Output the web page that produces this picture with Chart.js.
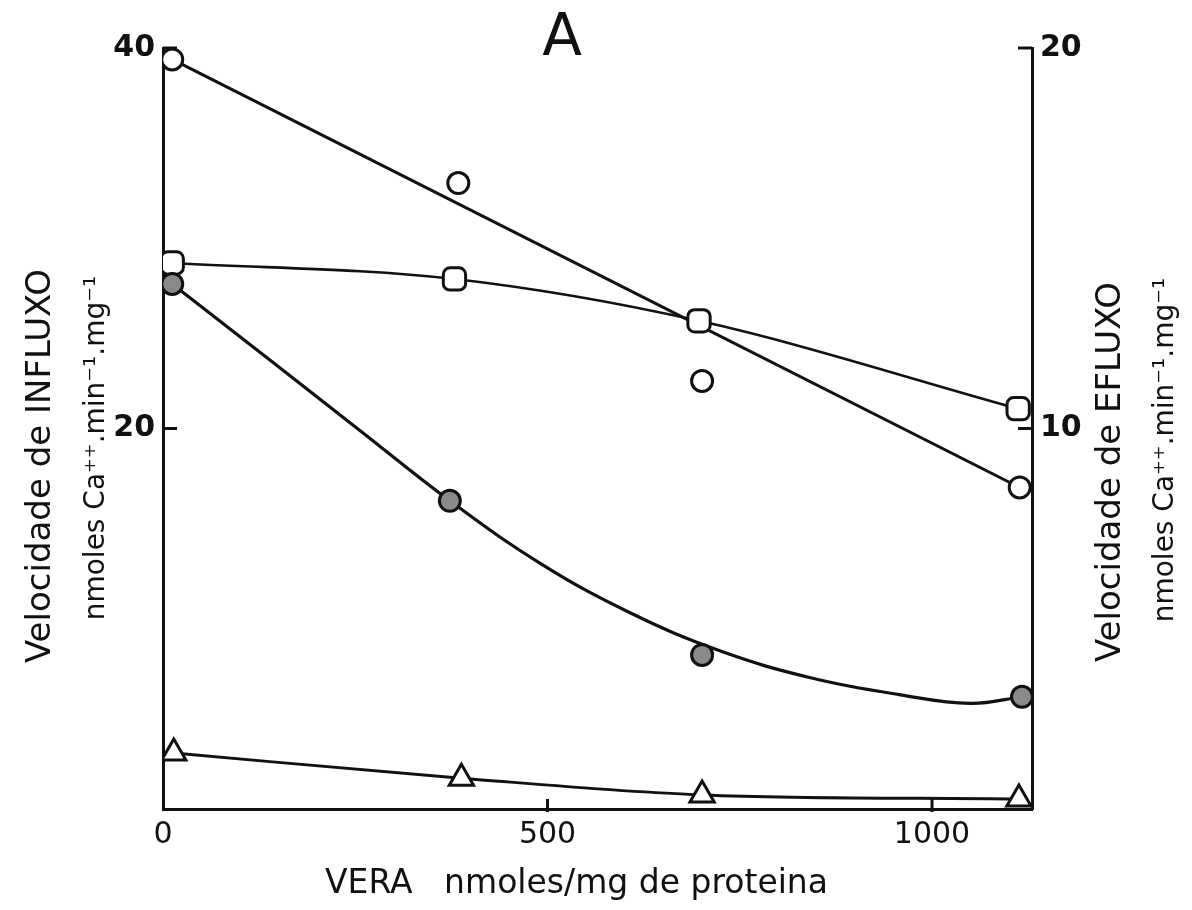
<!DOCTYPE html>
<html>
<head>
<meta charset="utf-8">
<script src="https://cdn.jsdelivr.net/npm/chart.js@4.4.1/dist/chart.umd.min.js"></script>
<style>
  html, body { margin: 0; padding: 0; background: #fff; }
  canvas { display: block; }
</style>
</head>
<body>
<canvas id="chart" width="1192" height="910"></canvas>
<script>
// values (x: VERA nmoles/mg proteina)
const openX = [12, 384, 701, 1114];
const openY = [39.4, 32.9, 22.5, 16.9];          // influx, left axis
const fitX = [12, 1114];
const fitY = [39.4, 16.9];

const filledX = [12, 373, 701, 1117];
const filledY = [27.6, 16.2, 8.1, 5.9];          // influx, left axis
const filledCurveX = [12, 139, 256, 373, 491, 608, 725, 842, 959, 1050, 1117];
const filledCurveY = [27.6, 23.6, 19.9, 16.2, 12.9, 10.3, 8.3, 6.9, 6.0, 5.55, 5.9];

const squareX = [12, 379, 697, 1112];
const squareY = [14.35, 13.93, 12.83, 10.52];    // efflux, right axis

const triangleX = [14, 388, 701, 1113];
const triangleY = [1.47, 0.81, 0.37, 0.26];      // efflux, right axis

const xTicks = [0, 500, 1000];
const leftTicks = [20, 40];
const rightTicks = [10, 20];

const ink = '#111';
const font = 'DejaVu Sans';

const pts = (xs, ys) => xs.map((x, i) => ({ x: x, y: ys[i] }));
const fixTicks = list => s => { s.ticks = list.map(v => ({ value: v })); };

const curve = (data, axis, width, mode) => ({
  data: data,
  yAxisID: axis,
  showLine: true,
  borderColor: ink,
  borderWidth: width,
  pointRadius: 0,
  cubicInterpolationMode: mode || 'default',
  tension: mode ? 0 : 0.4,
  order: 2
});

const markers = (data, axis, style, radius, fill) => ({
  data: data,
  yAxisID: axis,
  showLine: false,
  pointStyle: style,
  pointRadius: radius,
  pointBackgroundColor: fill,
  pointBorderColor: ink,
  pointBorderWidth: 3,
  order: 1
});

// inward tick marks, the "A" and the two-line side titles
const decorations = {
  id: 'decorations',
  afterDraw(chart) {
    const { ctx, chartArea, scales } = chart;
    ctx.save();
    ctx.strokeStyle = ink;
    ctx.lineWidth = 3;
    ctx.beginPath();
    leftTicks.forEach(v => {
      const y = scales.y.getPixelForValue(v);
      ctx.moveTo(chartArea.left, y);
      ctx.lineTo(chartArea.left + 14, y);
    });
    rightTicks.forEach(v => {
      const y = scales.y1.getPixelForValue(v);
      ctx.moveTo(chartArea.right, y);
      ctx.lineTo(chartArea.right - 14, y);
    });
    xTicks.slice(1).forEach(v => {
      const x = scales.x.getPixelForValue(v);
      ctx.moveTo(x, chartArea.bottom + 3);
      ctx.lineTo(x, chartArea.bottom - 10);
    });
    ctx.stroke();

    ctx.fillStyle = ink;
    ctx.textAlign = 'center';
    ctx.textBaseline = 'middle';
    ctx.font = '58px ' + font;
    ctx.fillText('A', 562, 40);

    const side = (text, x, y, size) => {
      ctx.save();
      ctx.translate(x, y);
      ctx.rotate(-Math.PI / 2);
      ctx.font = size + 'px ' + font;
      ctx.fillText(text, 0, 0);
      ctx.restore();
    };
    side('Velocidade de INFLUXO', chartArea.left - 122, 466, 34);
    side('nmoles Ca\u207A\u207A.min\u207B\u00B9.mg\u207B\u00B9', chartArea.left - 66, 448, 28);
    side('Velocidade de EFLUXO', chartArea.right + 79, 472, 34);
    side('nmoles Ca\u207A\u207A.min\u207B\u00B9.mg\u207B\u00B9', chartArea.right + 134, 450, 28);
    ctx.restore();
  }
};

new Chart(document.getElementById('chart'), {
  type: 'scatter',
  data: {
    datasets: [
      curve(pts(fitX, fitY), 'y', 3),
      markers(pts(openX, openY), 'y', 'circle', 10.5, '#fff'),
      curve(pts(filledCurveX, filledCurveY), 'y', 3.2),
      markers(pts(filledX, filledY), 'y', 'circle', 10.5, '#8a8a8a'),
      curve(pts(squareX, squareY), 'y1', 2.6, 'monotone'),
      markers(pts(squareX, squareY), 'y1', 'rectRounded', 13, '#fff'),
      curve(pts(triangleX, triangleY), 'y1', 3, 'monotone'),
      markers(pts(triangleX, triangleY), 'y1', 'triangle', 14, '#fff')
    ]
  },
  options: {
    responsive: false,
    animation: false,
    layout: { padding: { top: 48, left: 0, right: 0, bottom: 0 } },
    plugins: {
      legend: { display: false },
      tooltip: { enabled: false }
    },
    scales: {
      x: {
        type: 'linear',
        min: 0,
        max: 1130,
        afterBuildTicks: fixTicks(xTicks),
        afterFit: s => { s.height = 101; },
        grid: { drawOnChartArea: false, drawTicks: false },
        border: { display: true, color: ink, width: 3 },
        ticks: {
          autoSkip: false,
          maxRotation: 0,
          padding: 8,
          color: ink,
          font: { family: font, size: 30 },
          callback: v => String(v)
        },
        title: {
          display: true,
          text: 'VERA   nmoles/mg de proteina    ',
          color: ink,
          font: { family: font, size: 33 },
          padding: { top: 0, bottom: 6 }
        }
      },
      y: {
        position: 'left',
        min: 0,
        max: 40,
        afterBuildTicks: fixTicks(leftTicks),
        afterFit: s => { s.width = 163; },
        grid: { drawOnChartArea: false, drawTicks: false },
        border: { display: true, color: ink, width: 3 },
        ticks: {
          padding: 8,
          color: ink,
          font: { family: font, size: 30, weight: 'bold' }
        }
      },
      y1: {
        position: 'right',
        min: 0,
        max: 20,
        afterBuildTicks: fixTicks(rightTicks),
        afterFit: s => { s.width = 160; },
        grid: { drawOnChartArea: false, drawTicks: false },
        border: { display: true, color: ink, width: 3 },
        ticks: {
          padding: 8,
          color: ink,
          font: { family: font, size: 30, weight: 'bold' }
        }
      }
    }
  },
  plugins: [decorations]
});
</script>
</body>
</html>
